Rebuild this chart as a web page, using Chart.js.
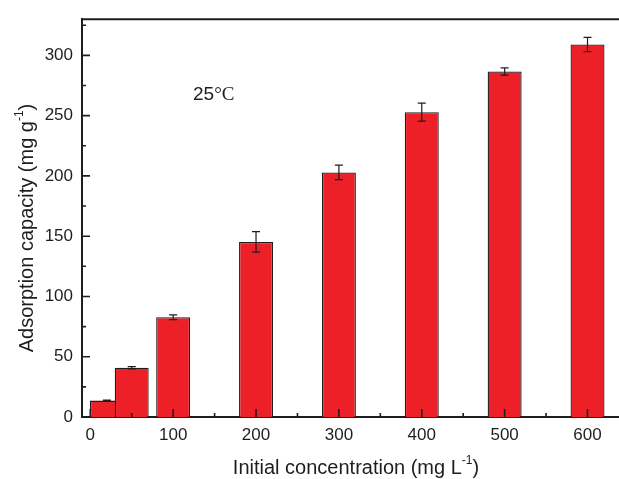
<!DOCTYPE html>
<html><head><meta charset="utf-8">
<script src="https://cdn.jsdelivr.net/npm/chart.js@4"></script>
<style>html,body{margin:0;padding:0;background:#fff}#wrap{width:619px;height:479px;position:relative}</style>
</head><body><div id="wrap"><canvas id="c"></canvas></div>
<script>
// ---- data ----
const concentrations = [20, 50, 100, 200, 300, 400, 500, 600];      // mg L-1
const capacities     = [13.6, 40.8, 82.7, 145.2, 202.9, 252.9, 286.6, 309.0]; // mg g-1
const errors         = [0.5, 1.0, 2.0, 8.5, 6.0, 7.5, 3.0, 6.0];
const xTickLabels = [0, 100, 200, 300, 400, 500, 600];
const xMinorTicks = [50, 150, 250, 350, 450, 550];
const yTickLabels = [0, 50, 100, 150, 200, 250, 300];
const yMinorTicks = [25, 75, 125, 175, 225, 275, 325];
const xTitle = 'Initial concentration (mg L';
const yTitle = 'Adsorption capacity (mg g';
const superscript = '-1';
const tempLabel = ['25', '\u00B0C'];

const SANS = "'Liberation Sans', Arial, sans-serif";
const SERIF = "'Liberation Serif', 'Times New Roman', serif";
const INK = '#1e1e1e';

const decor = {
  id: 'decor',
  afterDraw(chart) {
    const {ctx, chartArea: a, scales: {x, y}} = chart;
    ctx.save();
    // error bars
    ctx.strokeStyle = INK; ctx.lineWidth = 1.2;
    concentrations.forEach((c, i) => {
      const px = x.getPixelForValue(c);
      const t = y.getPixelForValue(capacities[i] + errors[i]);
      const b = y.getPixelForValue(capacities[i] - errors[i]);
      ctx.beginPath();
      ctx.moveTo(px, t); ctx.lineTo(px, b);
      ctx.moveTo(px - 4, t); ctx.lineTo(px + 4, t);
      ctx.moveTo(px - 4, b); ctx.lineTo(px + 4, b);
      ctx.stroke();
    });
    // inward ticks
    ctx.lineWidth = 1.6;
    ctx.beginPath();
    xTickLabels.forEach(v => { const p = x.getPixelForValue(v); ctx.moveTo(p, a.bottom); ctx.lineTo(p, a.bottom - 8); });
    xMinorTicks.forEach(v => { const p = x.getPixelForValue(v); ctx.moveTo(p, a.bottom); ctx.lineTo(p, a.bottom - 4); });
    yTickLabels.forEach(v => { const p = y.getPixelForValue(v); ctx.moveTo(a.left, p); ctx.lineTo(a.left + 8, p); });
    yMinorTicks.forEach(v => { const p = y.getPixelForValue(v); ctx.moveTo(a.left, p); ctx.lineTo(a.left + 4, p); });
    ctx.stroke();
    // top frame line
    ctx.lineWidth = 2;
    ctx.beginPath(); ctx.moveTo(a.left - 1, a.top); ctx.lineTo(a.right, a.top); ctx.stroke();

    // axis titles
    const big = '20px ' + SANS, small = '12px ' + SANS;
    ctx.fillStyle = INK;
    ctx.textBaseline = 'alphabetic';
    ctx.textAlign = 'left';
    ctx.font = big;
    const xw = ctx.measureText(xTitle).width;
    const cw = ctx.measureText(')').width;
    ctx.font = small;
    const sw = ctx.measureText(superscript).width;
    const xtStart = 356 - (xw + sw + cw) / 2;
    ctx.font = big;
    ctx.fillText(xTitle, xtStart, 474);
    ctx.font = small;
    ctx.fillText(superscript, xtStart + xw, 464);
    ctx.font = big;
    ctx.fillText(')', xtStart + xw + sw, 474);

    ctx.save();
    ctx.translate(33, 228);
    ctx.rotate(-Math.PI / 2);
    ctx.font = big;
    const yw = ctx.measureText(yTitle).width;
    ctx.font = small;
    const ysw = ctx.measureText(superscript).width;
    const ys = -(yw + ysw + cw) / 2;
    ctx.font = big;
    ctx.fillText(yTitle, ys, 0);
    ctx.font = small;
    ctx.fillText(superscript, ys + yw, -10);
    ctx.font = big;
    ctx.fillText(')', ys + yw + ysw, 0);
    ctx.restore();

    // temperature label
    const tx = x.getPixelForValue(124), ty = y.getPixelForValue(263);
    ctx.font = '19px ' + SANS;
    ctx.fillText(tempLabel[0], tx, ty);
    const tw = ctx.measureText(tempLabel[0]).width;
    ctx.font = '19px ' + SERIF;
    ctx.fillText(tempLabel[1], tx + tw, ty);
    ctx.restore();
  }
};

new Chart(document.getElementById('c'), {
  type: 'bar',
  data: {
    datasets: [{
      data: concentrations.map((c, i) => ({x: c, y: capacities[i]})),
      backgroundColor: '#ED2027',
      borderColor: INK,
      borderWidth: 1.3,
      borderSkipped: 'bottom',
      categoryPercentage: 1,
      barPercentage: 41 / 30
    }]
  },
  options: {
    responsive: true,
    maintainAspectRatio: false,
    animation: false,
    layout: {padding: {top: 13, left: 0, right: 0, bottom: 0}},
    plugins: {legend: {display: false}, tooltip: {enabled: false}},
    scales: {
      x: {
        type: 'linear', min: -10, max: 638, offset: false, z: 1,
        grid: {display: false, drawTicks: false, offset: false},
        border: {display: true, color: INK, width: 2},
        afterBuildTicks: s => { s.ticks = xTickLabels.map(v => ({value: v})); },
        afterFit: s => { s.height = 62; },
        ticks: {color: INK, padding: 8, maxRotation: 0, autoSkip: false, font: {family: SANS, size: 17}}
      },
      y: {
        type: 'linear', min: 0, max: 330, z: 1,
        grid: {display: false, drawTicks: false},
        border: {display: true, color: INK, width: 2},
        afterBuildTicks: s => { s.ticks = yTickLabels.map(v => ({value: v})); },
        afterFit: s => { s.width = 82; },
        ticks: {color: INK, padding: 9, autoSkip: false, font: {family: SANS, size: 17}}
      }
    }
  },
  plugins: [decor]
});
</script>
</body></html>
